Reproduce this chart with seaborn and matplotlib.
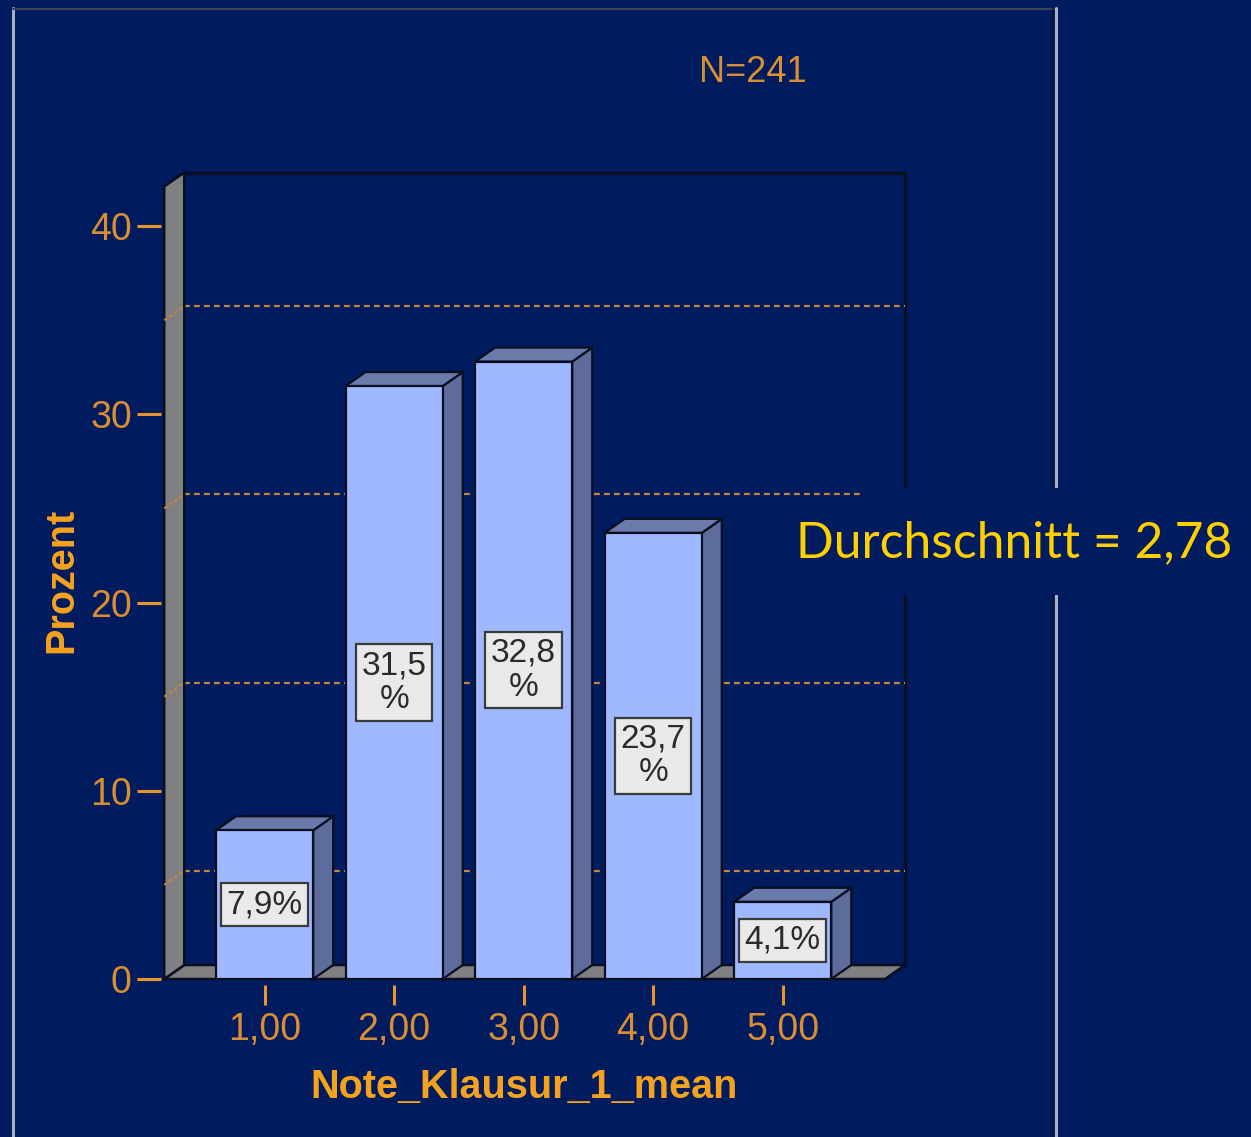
import matplotlib
matplotlib.use("Agg")
import matplotlib.pyplot as plt
from matplotlib.patches import Polygon, Rectangle
from matplotlib.lines import Line2D
import pandas as pd
import seaborn as sns

# ---- data -------------------------------------------------------------
categories = ["1,00", "2,00", "3,00", "4,00", "5,00"]
percent = [7.9, 31.5, 32.8, 23.7, 4.1]
y_ticks = [0, 10, 20, 30, 40]
grid_levels = [5, 15, 25, 35]
n_total = 241
mean_text = "2,78"
x_title = "Note_Klausur_1_mean"
y_title = "Prozent"

# ---- style ------------------------------------------------------------
W, H, DPI = 1251, 1137, 100
NAVY = "#001B5E"
ORANGE = "#E8952A"
ORANGE_TXT = "#DA8E32"
ORANGE_BOLD = "#F5A21E"
GRID = "#C8863A"
FRONT = "#A0B8FF"
SIDE = "#5E6C9C"
TOP = "#6A7AAA"
WALL = "#808080"
EDGE = "#0A0E22"
YELLOW = "#FFD000"

sns.set_style("white")
plt.rcParams["font.family"] = ["Liberation Sans", "DejaVu Sans"]

fig = plt.figure(figsize=(W / DPI, H / DPI), dpi=DPI, facecolor=NAVY)


def fx(px):
    return px / W


def fy(py):
    return 1 - py / H


# plot area in pixels (front plane)
left_px, right_px, top_px, base_px = 161, 920, 150, 979
ax = fig.add_axes([fx(left_px), fy(base_px),
                   (right_px - left_px) / W, (base_px - top_px) / H])
ax.patch.set_visible(False)

df = pd.DataFrame({"Note": categories, "Prozent": percent})
sns.barplot(data=df, x="Note", y="Prozent", width=0.75, color=FRONT,
            saturation=1, edgecolor=EDGE, linewidth=1.6, errorbar=None,
            ax=ax, zorder=4)
ax.set_xlim(-0.80, 5.06)
ax.set_ylim(0, 44.04)

# depth offset of the 3D box (pixels -> data units)
inv = ax.transData.inverted()
ox, oy = inv.transform(ax.transData.transform((0, 0)) + [20, 14])
dx, dy = ox - 0.0, oy - 0.0

wall_x0, floor_x1, wall_h = -0.775, 4.79, 42.1

# floor slab
ax.add_patch(Polygon([(wall_x0, 0), (floor_x1, 0), (floor_x1 + dx, dy),
                      (wall_x0 + dx, dy)], closed=True, fc=WALL, ec=EDGE,
                     lw=1.8, zorder=2, clip_on=False))
# left wall slab
ax.add_patch(Polygon([(wall_x0, 0), (wall_x0 + dx, dy),
                      (wall_x0 + dx, wall_h + dy), (wall_x0, wall_h)],
                     closed=True, fc=WALL, ec=EDGE, lw=1.8, zorder=3,
                     clip_on=False))
# back wall outline (top and right edges)
ax.plot([wall_x0 + dx, floor_x1 + dx, floor_x1 + dx],
        [wall_h + dy, wall_h + dy, dy], color=EDGE, lw=2.4, zorder=1,
        clip_on=False, solid_joinstyle="miter")

# dotted grid on the back wall, continuing across the left wall
for g in grid_levels:
    ax.plot([wall_x0 + dx, floor_x1 + dx], [g + dy, g + dy], color=GRID,
            lw=1.6, ls=(0, (2.6, 1.9)), zorder=1.5, clip_on=False)
    ax.plot([wall_x0, wall_x0 + dx], [g, g + dy], color=GRID, lw=1.5,
            ls=(0, (1.5, 1.5)), zorder=3.5, clip_on=False)

# side and top faces of each bar
for p in list(ax.patches):
    if p.get_facecolor()[:3] != matplotlib.colors.to_rgb(FRONT):
        continue
    x, w, h = p.get_x(), p.get_width(), p.get_height()
    ax.add_patch(Polygon([(x + w, 0), (x + w + dx, dy), (x + w + dx, h + dy),
                          (x + w, h)], closed=True, fc=SIDE, ec=EDGE,
                         lw=1.6, zorder=3.8, clip_on=False))
    ax.add_patch(Polygon([(x, h), (x + dx, h + dy), (x + w + dx, h + dy),
                          (x + w, h)], closed=True, fc=TOP, ec=EDGE,
                         lw=1.6, zorder=3.8, clip_on=False))

# value labels at mid-height of each bar
for i, v in enumerate(percent):
    num = f"{v:.1f}".replace(".", ",")
    label = num + "%" if len(num) <= 3 else num + "\n%"
    ax.text(i, v / 2, label, ha="center", va="center", fontsize=24,
            color="#2A2A2A", linespacing=1.12, zorder=6,
            bbox=dict(boxstyle="square,pad=0.17", fc="#E9E9E9",
                      ec="#3A3A3A", lw=1.6))

# axes, ticks and titles
for s in ax.spines.values():
    s.set_visible(False)
ax.spines["bottom"].set_position(("outward", 4.3))
ax.set_yticks(y_ticks)
ax.set_yticklabels([str(t) for t in y_ticks])
ax.tick_params(axis="y", left=True, length=17, width=2.2, color=ORANGE,
               pad=4, labelsize=27, labelcolor=ORANGE_TXT)
ax.tick_params(axis="x", bottom=True, length=14.5, width=2.2, color=ORANGE,
               pad=5, labelsize=27, labelcolor=ORANGE_TXT)

ax.set_xlabel(x_title, fontsize=28.5, fontweight="bold", color=ORANGE_BOLD)
ax.set_ylabel(y_title, fontsize=28.5, fontweight="bold", color=ORANGE_BOLD)
mid = ax.transAxes.inverted().transform(ax.transData.transform((2, 0)))[0]
ax.xaxis.set_label_coords(mid, (base_px - 1087) / (base_px - top_px))
ax.xaxis.label.set_va("center")
ax.yaxis.set_label_coords((61 - left_px) / (right_px - left_px),
                          (base_px - 580) / (base_px - top_px))
ax.yaxis.label.set_va("center")

fig.text(fx(753), fy(73), f"N={n_total}", ha="center", va="center",
         fontsize=26, color=ORANGE_TXT)

# outer frame
fig.add_artist(Line2D([fx(13), fx(13)], [fy(8), fy(H)], color="#A9B0C0",
                      lw=2.2, zorder=1))
fig.add_artist(Line2D([fx(13), fx(1056)], [fy(8.5), fy(8.5)],
                      color="#3E4456", lw=1.6, zorder=1))
fig.add_artist(Line2D([fx(1053), fx(1053)], [fy(8), fy(H)],
                      color="#0C1430", lw=1.2, zorder=1))
fig.add_artist(Line2D([fx(1055.5), fx(1055.5)], [fy(8), fy(H)],
                      color="#A9B0C0", lw=2.2, zorder=1))

# mean annotation on its own panel
fig.add_artist(Rectangle((fx(861), fy(595)), fx(W - 861), (595 - 488) / H,
                         fc=NAVY, ec="none", zorder=5))
fig.text(fx(796), fy(543), f"Durchschnitt = {mean_text}", ha="left",
         va="center", fontsize=35.8, color=YELLOW, family="Lato", zorder=6)

fig.savefig("out.png", dpi=DPI, facecolor=NAVY)
